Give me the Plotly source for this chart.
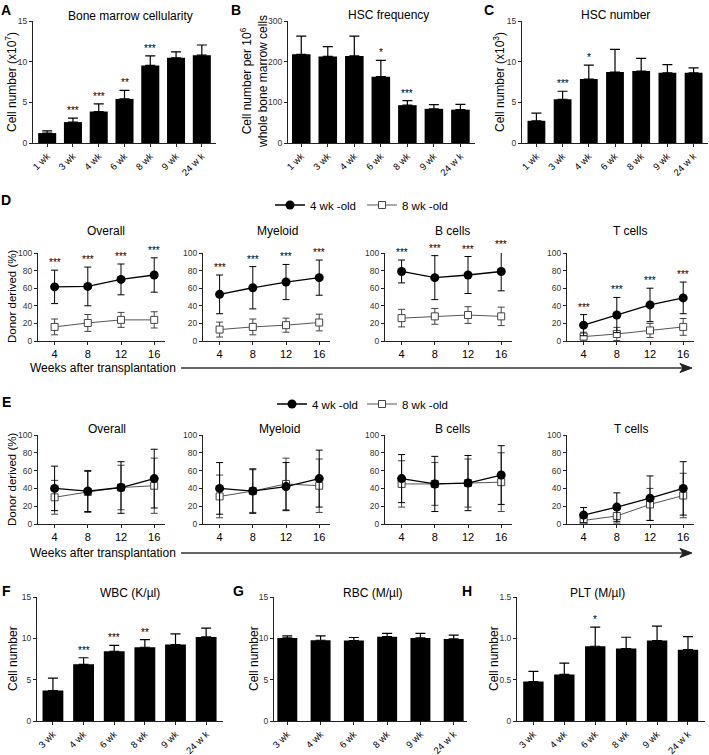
import plotly.graph_objects as go

W, H = 709, 755
FONT = "Liberation Sans, Arial, Helvetica, sans-serif"

# ---------------- data ----------------
bm_ages = ["1 wk", "3 wk", "4 wk", "6 wk", "8 wk", "9 wk", "24 w k"]
cellularity = [1.22, 2.57, 3.87, 5.42, 9.54, 10.48, 10.8]
cellularity_err = [0.28, 0.5, 0.95, 1.05, 1.18, 0.73, 1.25]
cellularity_sig = ["", "***", "***", "**", "***", "", ""]
hsc_freq = [218, 213, 214, 163, 93, 84, 82]
hsc_freq_err = [45, 24, 49, 40, 11, 10.5, 13]
hsc_freq_sig = ["", "", "", "*", "***", "", ""]
hsc_num = [2.73, 5.38, 7.87, 8.72, 8.85, 8.64, 8.64]
hsc_num_err = [0.95, 0.98, 1.7, 2.8, 1.55, 1.0, 0.6]
hsc_num_sig = ["", "***", "*", "", "", "", ""]

weeks = [4, 8, 12, 16]
lineages = ["Overall", "Myeloid", "B cells", "T cells"]

# D (primary transplantation)
d_overall_4wk = [61.5, 62, 70, 75]
d_overall_4wk_sd = [19, 22, 17.5, 19.5]
d_overall_8wk = [16, 20.5, 24, 24]
d_overall_8wk_sd = [9, 9.6, 8.5, 9.2]
d_myeloid_4wk = [53, 60.5, 67, 72]
d_myeloid_4wk_sd = [22, 24, 20, 20]
d_myeloid_8wk = [13, 16, 18, 21]
d_myeloid_8wk_sd = [8.5, 9, 8, 9.5]
d_bcell_4wk = [79, 72, 75, 79]
d_bcell_4wk_sd = [13, 25, 21, 22]
d_bcell_8wk = [26, 28, 29.5, 28]
d_bcell_8wk_sd = [10, 9, 9.5, 10.5]
d_tcell_4wk = [18, 29.5, 41, 49]
d_tcell_4wk_sd = [12, 20, 19, 18]
d_tcell_8wk = [5, 8, 12, 16]
d_tcell_8wk_sd = [5, 7.5, 8, 9.5]
d_sig = ["***", "***", "***", "***"]

# E (secondary transplantation)
e_overall_4wk = [40, 37, 41, 51]
e_overall_4wk_sd = [25, 23, 29, 33]
e_overall_8wk = [30, 36, 41, 43]
e_overall_8wk_sd = [19, 23, 25, 31]
e_myeloid_4wk = [40, 37, 42, 51]
e_myeloid_4wk_sd = [29, 25, 27, 32]
e_myeloid_8wk = [31, 37, 45, 43]
e_myeloid_8wk_sd = [24, 24, 29, 30]
e_bcell_4wk = [51, 45, 46, 55]
e_bcell_4wk_sd = [27, 31, 31, 33]
e_bcell_8wk = [45, 45, 46, 47]
e_bcell_8wk_sd = [26, 24, 27, 33]
e_tcell_4wk = [10, 19, 29, 40]
e_tcell_4wk_sd = [8.5, 16, 25, 30]
e_tcell_8wk = [4, 9, 22, 32]
e_tcell_8wk_sd = [4, 8, 18, 25]
e_sig = ["", "", "", ""]

blood_ages = ["3 wk", "4 wk", "6 wk", "8 wk", "9 wk", "24 w k"]
wbc = [3.69, 6.85, 8.43, 8.92, 9.24, 10.17]
wbc_err = [1.5, 0.8, 0.73, 0.93, 1.3, 1.06]
wbc_sig = ["", "***", "***", "**", "", ""]
rbc = [10.05, 9.77, 9.73, 10.2, 10.05, 9.93]
rbc_err = [0.25, 0.53, 0.37, 0.4, 0.55, 0.47]
rbc_sig = ["", "", "", "", "", ""]
plt_vals = [0.478, 0.563, 0.904, 0.876, 0.973, 0.863]
plt_err = [0.122, 0.137, 0.231, 0.137, 0.174, 0.157]
plt_sig = ["", "", "*", "", "", ""]

# ---------------- helpers ----------------
def PX(x):
    return x / W


def PY(y):
    return 1 - y / H


fig = go.Figure()
layout = dict(
    template="none",
    width=W, height=H, margin=dict(l=0, r=0, t=0, b=0, pad=0),
    paper_bgcolor="white", plot_bgcolor="white",
    font=dict(family=FONT, color="black"),
    showlegend=True,
)
annotations = []
shapes = []
axis_count = [0]


def new_axes(xdom, ydom, xcfg, ycfg):
    axis_count[0] += 1
    n = axis_count[0]
    xk = "xaxis" if n == 1 else f"xaxis{n}"
    yk = "yaxis" if n == 1 else f"yaxis{n}"
    xid = "x" if n == 1 else f"x{n}"
    yid = "y" if n == 1 else f"y{n}"
    base = dict(showline=True, linecolor="#222", linewidth=1, ticks="outside",
                tickcolor="#222", ticklen=3, tickwidth=1, showgrid=False,
                zeroline=False, fixedrange=True, mirror=False)
    layout[xk] = dict(base, domain=[PX(xdom[0]), PX(xdom[1])], anchor=yid, **xcfg)
    layout[yk] = dict(base, domain=[PY(ydom[1]), PY(ydom[0])], anchor=xid, **ycfg)
    return xid, yid


def text_px(x, y, text, size=12, xanchor="center", angle=0, bold=False):
    annotations.append(dict(
        x=PX(x), y=PY(y), xref="paper", yref="paper",
        text=f"<b>{text}</b>" if bold else text,
        showarrow=False, xanchor=xanchor, yanchor="middle", textangle=angle,
        font=dict(size=size, family=FONT, color="black")))


def add_stars(xid, yid, xs, tops, sig, ymax, ydom):
    # significance marks sit just above each error bar; marks above the axis
    # top are anchored at the top and shifted up by the equivalent pixels
    px_per_unit = (ydom[1] - ydom[0]) / ymax
    for x, top, s in zip(xs, tops, sig):
        if s:
            anchor = min(top, ymax)
            annotations.append(dict(x=x, y=anchor, xref=xid, yref=yid, text=s, showarrow=False,
                                    yanchor="bottom", yshift=(top - anchor) * px_per_unit,
                                    font=dict(size=10, color="black")))


def bar_panel(xdom, ydom, cats, vals, errs, sig, yrange, ytv, ytt, xrange, barw):
    xid, yid = new_axes(
        xdom, ydom,
        dict(type="category", range=xrange, tickangle=-45,
             tickfont=dict(size=9.5, color="black")),
        dict(range=yrange, tickvals=ytv, ticktext=ytt, tickfont=dict(size=8.5, color="#333")))
    fig.add_trace(go.Bar(
        x=cats, y=vals, width=barw, marker=dict(color="black", line=dict(width=0)),
        error_y=dict(type="data", symmetric=False, array=errs, arrayminus=[0] * len(errs),
                     color="black", thickness=1.2, width=5),
        xaxis=xid, yaxis=yid, showlegend=False))
    add_stars(xid, yid, cats, [v + e for v, e in zip(vals, errs)], sig, yrange[1], ydom)


def line_panel(xdom, ydom, y4, s4, y8, s8, sig, leg4=None, leg8=None):
    xid, yid = new_axes(
        xdom, ydom,
        dict(range=[2, 17.3], tickvals=weeks, tickfont=dict(size=11, color="black")),
        dict(range=[0, 100], tickvals=[0, 20, 40, 60, 80, 100],
             tickfont=dict(size=8.5, color="#333")))
    fig.add_trace(go.Scatter(
        x=weeks, y=y8, mode="lines+markers", name="8 wk -old",
        line=dict(color="#555", width=1),
        marker=dict(symbol="square", size=7, color="white", line=dict(color="#444", width=1)),
        error_y=dict(type="data", array=s8, color="#444", thickness=1, width=3.5),
        xaxis=xid, yaxis=yid, cliponaxis=False,
        showlegend=leg8 is not None, legend=leg8 or "legend"))
    fig.add_trace(go.Scatter(
        x=weeks, y=y4, mode="lines+markers", name="4 wk -old",
        line=dict(color="black", width=1.3),
        marker=dict(symbol="circle", size=9, color="black"),
        error_y=dict(type="data", array=s4, color="black", thickness=1, width=3.5),
        xaxis=xid, yaxis=yid, cliponaxis=False,
        showlegend=leg4 is not None, legend=leg4 or "legend"))
    add_stars(xid, yid, weeks, [v + e for v, e in zip(y4, s4)], sig, 100, ydom)


# Row 1: A, B, C
ROW1 = (21, 143)
bar_panel((33, 216), ROW1, bm_ages, cellularity, cellularity_err, cellularity_sig,
          [0, 15], [0, 5, 10, 15], ["0", "5", "10", "15"], [-0.55, 6.55], 0.7)
bar_panel((288, 475), ROW1, bm_ages, hsc_freq, hsc_freq_err, hsc_freq_sig,
          [0, 300], [0, 100, 200, 300], ["0", "100", "200", "300"], [-0.5, 6.55], 0.7)
bar_panel((522, 708), ROW1, bm_ages, hsc_num, hsc_num_err, hsc_num_sig,
          [0, 15], [0, 5, 10, 15], ["0", "5", "10", "15"], [-0.55, 6.55], 0.68)

# Rows 2 / 3: D, E
XD = [(38, 165), (203, 330), (385, 512), (567, 694)]
ROWD = (253, 341)
ROWE = (435, 524)
d_sets = [
    (d_overall_4wk, d_overall_4wk_sd, d_overall_8wk, d_overall_8wk_sd),
    (d_myeloid_4wk, d_myeloid_4wk_sd, d_myeloid_8wk, d_myeloid_8wk_sd),
    (d_bcell_4wk, d_bcell_4wk_sd, d_bcell_8wk, d_bcell_8wk_sd),
    (d_tcell_4wk, d_tcell_4wk_sd, d_tcell_8wk, d_tcell_8wk_sd),
]
e_sets = [
    (e_overall_4wk, e_overall_4wk_sd, e_overall_8wk, e_overall_8wk_sd),
    (e_myeloid_4wk, e_myeloid_4wk_sd, e_myeloid_8wk, e_myeloid_8wk_sd),
    (e_bcell_4wk, e_bcell_4wk_sd, e_bcell_8wk, e_bcell_8wk_sd),
    (e_tcell_4wk, e_tcell_4wk_sd, e_tcell_8wk, e_tcell_8wk_sd),
]
for i, (xd, (a, sa, b, sb)) in enumerate(zip(XD, d_sets)):
    line_panel(xd, ROWD, a, sa, b, sb, d_sig,
               leg4="legend" if i == 0 else None, leg8="legend2" if i == 0 else None)
for i, (xd, (a, sa, b, sb)) in enumerate(zip(XD, e_sets)):
    line_panel(xd, ROWE, a, sa, b, sb, e_sig,
               leg4="legend3" if i == 0 else None, leg8="legend4" if i == 0 else None)

# Row 4: F, G, H
ROW4 = (597, 721)
bar_panel((37, 223), ROW4, blood_ages, wbc, wbc_err, wbc_sig,
          [0, 15], [0, 5, 10, 15], ["0", "5", "10", "15"], [-0.52, 5.55], 0.68)
bar_panel((274, 467), ROW4, blood_ages, rbc, rbc_err, rbc_sig,
          [0, 15], [0, 5, 10, 15], ["0", "5", "10", "15"], [-0.4, 5.4], 0.6)
bar_panel((517, 705), ROW4, blood_ages, plt_vals, plt_err, plt_sig,
          [0, 1.5], [0, 0.5, 1.0, 1.5], ["0", "0.5", "1.0", "1.5"], [-0.53, 5.55], 0.66)

# legends (one entry each, placed like the reference key)
for key, lx, ly in [("legend", 270, 205), ("legend2", 362, 205),
                    ("legend3", 272, 404), ("legend4", 362, 404)]:
    layout[key] = dict(x=PX(lx), y=PY(ly), xanchor="left", yanchor="middle",
                       orientation="h", font=dict(size=11.5, family=FONT, color="black"),
                       itemwidth=30, bgcolor="rgba(0,0,0,0)", borderwidth=0)

# panel titles
text_px(130, 16, "Bone marrow cellularity")
text_px(388, 15, "HSC frequency")
text_px(615, 15, "HSC number")
for cx, name in zip([106, 277, 452, 630], lineages):
    text_px(cx, 231, name)
for cx, name in zip([107, 279, 452, 631], lineages):
    text_px(cx, 429, name)
text_px(130, 593, "WBC (K/µl)")
text_px(373, 593, "RBC (M/µl)")
text_px(597, 593, "PLT (M/µl)")

# y-axis titles
text_px(11, 82, "Cell number (x10<sup>7</sup>)", angle=-90)
text_px(254, 82, "Cell number per 10<sup>6</sup><br>whole bone marrow cells", angle=-90)
text_px(499, 82, "Cell number (x10<sup>3</sup>)", angle=-90)
text_px(12, 297, "Donor derived (%)", size=11.5, angle=-90)
text_px(12, 480, "Donor derived (%)", size=11.5, angle=-90)
text_px(13, 659, "Cell number", angle=-90)
text_px(254, 659, "Cell number", angle=-90)
text_px(494, 659, "Cell number", angle=-90)

# panel letters
for letter, x, y in [("A", 6, 10), ("B", 236, 10), ("C", 489, 10), ("D", 6, 200),
                     ("E", 6, 402), ("F", 6, 591), ("G", 239, 591), ("H", 467, 591)]:
    text_px(x, y, letter, size=14, bold=True)

# "Weeks after transplantation" with long arrow
for y in (368, 553):
    text_px(28, y, "Weeks after transplantation", xanchor="left")
    shapes.append(dict(type="line", xref="paper", yref="paper",
                       x0=PX(181), x1=PX(684), y0=PY(y), y1=PY(y),
                       line=dict(color="#333", width=1.6)))
    shapes.append(dict(type="path", xref="paper", yref="paper",
                       path=(f"M {PX(692)} {PY(y)} L {PX(680)} {PY(y - 4.5)} "
                             f"L {PX(683)} {PY(y)} L {PX(680)} {PY(y + 4.5)} Z"),
                       fillcolor="#222", line=dict(color="#222", width=1)))

layout["annotations"] = annotations
layout["shapes"] = shapes
fig.update_layout(**layout)
# remove the default 8px page margin so the 709x755 figure fills the window exactly
fig.write_html("out.html", config={"displayModeBar": False},
               post_script="document.body.style.margin='0px';")
